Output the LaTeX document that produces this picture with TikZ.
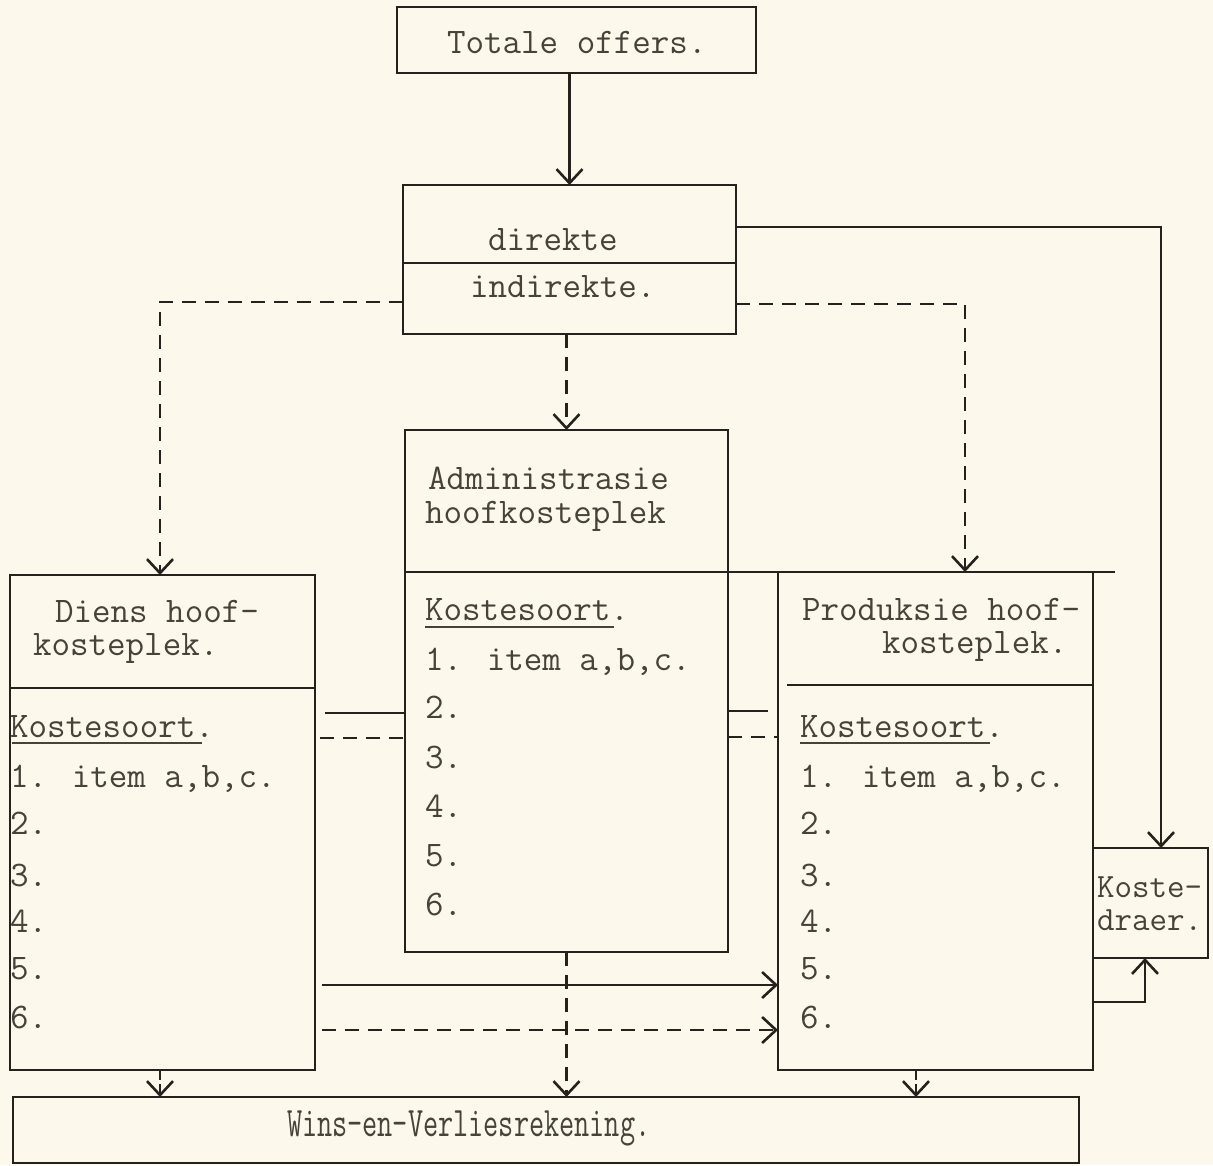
\documentclass[tikz,border=0pt]{standalone}
\usepackage{fontspec}
\usetikzlibrary{arrows.meta}
\definecolor{paper}{RGB}{252,249,236}
\definecolor{ink}{RGB}{38,33,28}
\definecolor{txt}{RGB}{72,66,58}
\begin{document}
\begin{tikzpicture}[x=1pt,y=-1pt,
  box/.style={draw=ink, line width=2.6pt, inner sep=0pt, outer sep=0pt, anchor=north west},
  lbl/.style={text=txt, font=\fontsize{36}{36}\selectfont\ttfamily, inner sep=0pt, outer sep=0pt, anchor=base west},
  plain/.style={draw=ink, line width=2.6pt},
  uline/.style={draw=txt, line width=1.8pt},
  link/.style={draw=ink, line width=2.6pt, -{Straight Barb[length=14pt,width=26pt,line width=2.6pt]}},
  dlink/.style={link, dash pattern=on 14pt off 9pt},
  dplain/.style={plain, dash pattern=on 14pt off 9pt}]
\fill[paper] (0,0) rectangle (1213,1165);
\useasboundingbox (0,0) rectangle (1213,1165);

% boxes
\node[box, minimum width=359pt, minimum height=66pt] (tot) at (397,7) {};
\node[box, minimum width=333pt, minimum height=149pt] (dir) at (403,185) {};
\node[box, minimum width=323pt, minimum height=522pt] (adm) at (405,430) {};
\node[box, minimum width=305pt, minimum height=495pt] (diens) at (10,575) {};
\node[box, minimum width=315pt, minimum height=498pt] (prod) at (778,572) {};
\node[box, minimum width=115pt, minimum height=110pt] (kd) at (1093,848) {};
\node[box, minimum width=1066pt, minimum height=66pt] (wins) at (13,1097) {};

% dividers
\draw[plain] (dir.west |- 0,263) -- (dir.east |- 0,263);
\draw[plain] (diens.west |- 0,688) -- (diens.east |- 0,688);
\draw[plain] (787,685) -- (prod.east |- 0,685);
\coordinate (hl) at (1115,572);
\draw[plain] (adm.west |- hl) -- (hl);

% texts
\node[lbl] (ttot) at (447,53) {Totale offers.};
\node[lbl] (tdir) at (488,250) {direkte};
\node[lbl] (tind) at (470,297) {indirekte.};

\node[lbl] (ta1) at (428,489) {Administrasie};
\node[lbl] (ta2) at (425,523) {hoofkosteplek};
\node[lbl] (ak) at (425,620) {Kostesoort.};
\draw[uline] (425,627) -- (614,627);
\node[lbl] (a1) at (425,670) {1. item a,b,c.};
\node[lbl] (a2) at (425,718) {2.};
\node[lbl] (a3) at (425,768) {3.};
\node[lbl] (a4) at (425,817) {4.};
\node[lbl] (a5) at (425,866) {5.};
\node[lbl] (a6) at (425,915) {6.};

\node[lbl] (td1) at (55,622) {Diens hoof-};
\node[lbl] (td2) at (33,655) {kosteplek.};
\node[lbl] (dk) at (10,737) {Kostesoort.};
\draw[uline] (12,743) -- (202,743);
\node[lbl] (d1) at (10,787) {1. item a,b,c.};
\node[lbl] (d2) at (10,834) {2.};
\node[lbl] (d3) at (10,886) {3.};
\node[lbl] (d4) at (10,932) {4.};
\node[lbl] (d5) at (10,979) {5.};
\node[lbl] (d6) at (10,1028) {6.};

\node[lbl] (tp1) at (802,620) {Produksie hoof-};
\node[lbl] (tp2) at (882,653) {kosteplek.};
\node[lbl] (pk) at (800,737) {Kostesoort.};
\draw[uline] (800,743) -- (990,743);
\node[lbl] (p1) at (800,787) {1. item a,b,c.};
\node[lbl] (p2) at (800,834) {2.};
\node[lbl] (p3) at (800,886) {3.};
\node[lbl] (p4) at (800,932) {4.};
\node[lbl] (p5) at (800,979) {5.};
\node[lbl] (p6) at (800,1028) {6.};

\node[lbl, font=\fontsize{34}{34}\selectfont\ttfamily] (k1) at (1097,897) {Koste-};
\node[lbl, font=\fontsize{34}{34}\selectfont\ttfamily] (k2) at (1097,930) {draer.};

\node[lbl, font=\fontsize{42}{42}\selectfont\ttfamily, xscale=0.70] (tw) at (287,1136) {Wins-en-Verliesrekening.};

% connectors
\draw[link] (tot.south -| dir.north) -- (dir.north);
\coordinate (cR) at (1161,227);
\draw[link] (dir.east |- cR) -- (cR) -- (kd.north -| cR);
\coordinate (cL) at (160,302);
\draw[dlink] (dir.west |- cL) -- (cL) -- (diens.north -| cL);
\coordinate (cP) at (965,304);
\draw[dlink] (dir.east |- cP) -- (cP) -- (prod.north -| cP);
\draw[dlink] (dir.south -| adm.north) -- (adm.north);

% stubs between boxes
\coordinate (st1) at (325,713);
\draw[plain] (st1) -- (adm.west |- st1);
\coordinate (st2) at (320,738);
\draw[dplain] (st2) -- (adm.west |- st2);
\coordinate (st3) at (768,711);
\draw[plain] (adm.east |- st3) -- (st3);
\coordinate (st4) at (778,737);
\draw[dplain] (adm.east |- st4) -- (st4);

% diens -> produksie
\coordinate (s5) at (322,985);
\draw[link] (s5) -- (prod.west |- s5);
\coordinate (s6) at (322,1030);
\draw[dlink] (s6) -- (prod.west |- s6);

% to wins
\draw[dlink] (adm.south) -- (wins.north -| adm.south);
\draw[link, dash pattern=on 10pt off 4pt] (diens.south -| cL) -- (wins.north -| cL);
\coordinate (cQ) at (916,1000);
\draw[link, dash pattern=on 10pt off 4pt] (prod.south -| cQ) -- (wins.north -| cQ);

% produksie -> kostedraer
\coordinate (cK) at (1145,1002);
\draw[link] (prod.east |- cK) -- (cK) -- (kd.south -| cK);
\end{tikzpicture}
\end{document}
